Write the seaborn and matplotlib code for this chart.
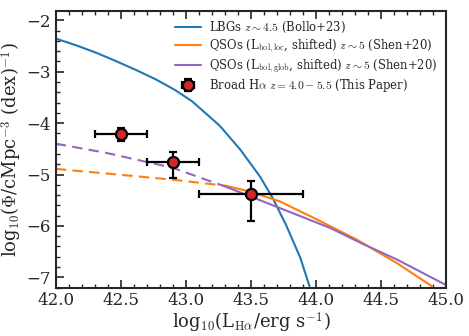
import matplotlib
matplotlib.use("Agg")
import matplotlib.pyplot as plt
from matplotlib.ticker import MultipleLocator
import seaborn as sns
import pandas as pd
import numpy as np

# values
lbg_x = [42.0, 42.15, 42.31, 42.46, 42.62, 42.77, 42.92, 43.05, 43.26,
         43.42, 43.57, 43.67, 43.77, 43.88, 43.95]
lbg_y = [-2.355, -2.48, -2.63, -2.79, -2.97, -3.15, -3.36, -3.58, -4.05,
         -4.52, -5.04, -5.47, -5.98, -6.62, -7.17]

qso_loc_dash_x = [42.0, 42.39, 42.90, 43.31]
qso_loc_dash_y = [-4.89, -4.98, -5.10, -5.22]
qso_loc_x = [43.31, 43.49, 43.72, 43.98, 44.31, 44.62, 44.89]
qso_loc_y = [-5.22, -5.33, -5.52, -5.84, -6.26, -6.72, -7.17]

qso_glob_dash_x = [42.0, 42.39, 42.90, 43.21, 43.31]
qso_glob_dash_y = [-4.40, -4.58, -4.87, -5.15, -5.24]
qso_glob_x = [43.31, 43.72, 44.11, 44.36, 44.62, 45.0]
qso_glob_y = [-5.24, -5.65, -6.04, -6.35, -6.65, -7.15]

ha_x = [42.5, 42.9, 43.5]
ha_y = [-4.21, -4.75, -5.37]
ha_xerr = [0.2, 0.2, 0.4]
ha_yerr_lo = [0.13, 0.32, 0.54]
ha_yerr_hi = [0.11, 0.18, 0.24]

sns.set_style("ticks")
plt.rcParams['font.family'] = ['DejaVu Serif']
plt.rcParams['mathtext.fontset'] = 'cm'
plt.rcParams['mathtext.rm'] = 'DejaVu Serif'

fig = plt.figure(figsize=(4.69, 3.36), dpi=100)
ax = fig.add_axes([0.119, 0.144, 0.832, 0.823])

blue, orange, purple = '#1f77b4', '#ff7f0e', '#9467bd'

sns.lineplot(x=lbg_x, y=lbg_y, ax=ax, color=blue, lw=1.5, sort=False,
             label=r'LBGs $z\sim4.5$ (Bollo+23)')
sns.lineplot(x=qso_loc_x, y=qso_loc_y, ax=ax, color=orange, lw=1.5, sort=False,
             label=r'QSOs (L$_{\rm bol,loc}$, shifted) $z\sim5$ (Shen+20)')
sns.lineplot(x=qso_glob_x, y=qso_glob_y, ax=ax, color=purple, lw=1.5, sort=False,
             label=r'QSOs (L$_{\rm bol,glob}$, shifted) $z\sim5$ (Shen+20)')
sns.lineplot(x=qso_loc_dash_x, y=qso_loc_dash_y, ax=ax, color=orange, lw=1.5,
             sort=False, linestyle=(0, (5, 3)))
sns.lineplot(x=qso_glob_dash_x, y=qso_glob_dash_y, ax=ax, color=purple, lw=1.5,
             sort=False, linestyle=(0, (5, 3)))

ax.errorbar(ha_x, ha_y, xerr=ha_xerr, yerr=[ha_yerr_lo, ha_yerr_hi],
            fmt='o', color='k', ecolor='k', elinewidth=1.6, capsize=3, capthick=1.6,
            mfc='#d62728', mec='k', mew=1.6, ms=8, zorder=5,
            label=r'Broad H$\alpha$ $z=4.0-5.5$ (This Paper)')

ax.set_xlim(42.0, 45.0)
ax.set_ylim(-7.2, -1.82)
ax.xaxis.set_major_locator(MultipleLocator(0.5))
ax.xaxis.set_minor_locator(MultipleLocator(0.1))
ax.yaxis.set_major_locator(MultipleLocator(1))
ax.yaxis.set_minor_locator(MultipleLocator(0.2))
ax.tick_params(which='both', direction='in', top=True, right=False, labelsize=12)
ax.tick_params(which='major', length=6, width=1.2)
ax.tick_params(which='minor', length=3, width=1.0)
for s in ax.spines.values():
    s.set_linewidth(1.5)

ax.set_xlabel(r'log$_{10}$(L$_{\rm H\alpha}$/erg s$^{-1}$)', fontsize=13, labelpad=1)
ax.set_ylabel(r'log$_{10}$($\Phi$/cMpc$^{-3}$ (dex)$^{-1}$)', fontsize=13, labelpad=2)

handles, labels = ax.get_legend_handles_labels()
ax.legend(handles, labels, loc='upper right', frameon=False, fontsize=8.4,
          handlelength=2.2, handletextpad=0.7, borderaxespad=0.35, labelspacing=0.2)

fig.savefig('out.png', dpi=100)
